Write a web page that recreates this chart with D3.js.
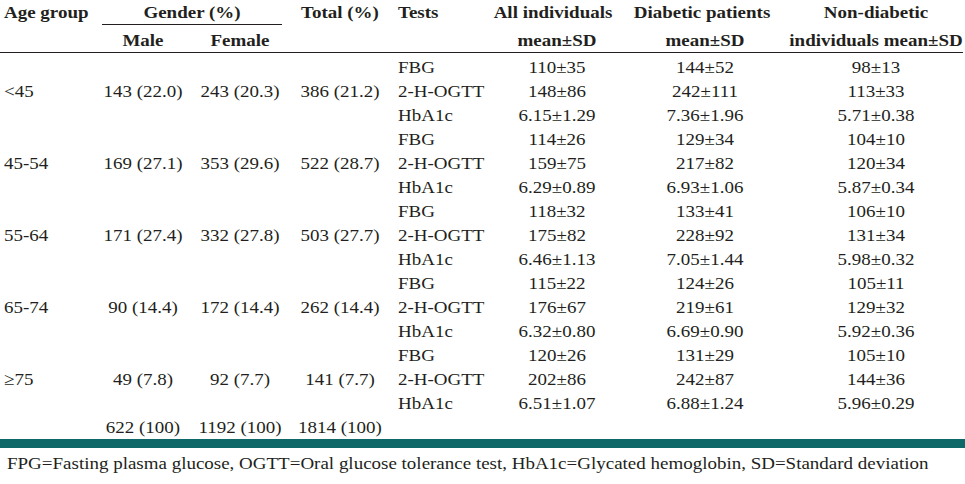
<!DOCTYPE html>
<html>
<head>
<meta charset="utf-8">
<script src="https://cdn.jsdelivr.net/npm/d3@7"></script>
<style>
  body { margin: 0; background: #fff; }
  text { font-family: 'Liberation Serif', 'Times New Roman', serif; fill: #231f20; }
</style>
</head>
<body>
<div id="tabla"></div>
<script>
// Tabla: grupos de edad, genero y pruebas de glucosa

// Datos
ageGroups = ['<45', '45-54', '55-64', '65-74', '\u226575']
male      = ['143 (22.0)', '169 (27.1)', '171 (27.4)', '90 (14.4)', '49 (7.8)']
female    = ['243 (20.3)', '353 (29.6)', '332 (27.8)', '172 (14.4)', '92 (7.7)']
total     = ['386 (21.2)', '522 (28.7)', '503 (27.7)', '262 (14.4)', '141 (7.7)']
totals    = ['622 (100)', '1192 (100)', '1814 (100)']
tests     = ['FBG', '2-H-OGTT', 'HbA1c']

allMean = [
  '110\u00b135', '148\u00b186', '6.15\u00b11.29',
  '114\u00b126', '159\u00b175', '6.29\u00b10.89',
  '118\u00b132', '175\u00b182', '6.46\u00b11.13',
  '115\u00b122', '176\u00b167', '6.32\u00b10.80',
  '120\u00b126', '202\u00b186', '6.51\u00b11.07'
]
diabMean = [
  '144\u00b152', '242\u00b1111', '7.36\u00b11.96',
  '129\u00b134', '217\u00b182', '6.93\u00b11.06',
  '133\u00b141', '228\u00b192', '7.05\u00b11.44',
  '124\u00b126', '219\u00b161', '6.69\u00b10.90',
  '131\u00b129', '242\u00b187', '6.88\u00b11.24'
]
nonDiabMean = [
  '98\u00b113', '113\u00b133', '5.71\u00b10.38',
  '104\u00b110', '120\u00b134', '5.87\u00b10.34',
  '106\u00b110', '131\u00b134', '5.98\u00b10.32',
  '105\u00b111', '129\u00b132', '5.92\u00b10.36',
  '105\u00b110', '144\u00b136', '5.96\u00b10.29'
]
footnote = 'FPG=Fasting plasma glucose, OGTT=Oral glucose tolerance test, HbA1c=Glycated hemoglobin, SD=Standard deviation'

ancho = 965
alto  = 484
fs = 17.5
sx = 1.085   // la imagen original esta un poco estirada a lo ancho

svg = d3.select('#tabla').append('svg')
        .attr('width', ancho)
        .attr('height', alto)

// Escaladores
y = d3.scaleLinear().domain([0, 15]).range([67, 427])
col = d3.scaleOrdinal()
        .domain(['age', 'male', 'female', 'total', 'tests', 'all', 'diab', 'nondiab'])
        .range([4, 143, 240, 340, 398, 557, 705, 876])

function txt(x, yy, s, opts) {
  opts = opts || {}
  return svg.append('text')
    .attr('transform', `translate(${x}, ${yy}) scale(${sx}, 1)`)
    .attr('dy', '0.35em')
    .attr('font-size', fs + 'px')
    .attr('font-weight', opts.bold ? 'bold' : 'normal')
    .attr('text-anchor', opts.anchor || 'middle')
    .text(s)
}

// Encabezado
txt(col('age'), 12, 'Age group', {bold: true, anchor: 'start'})
txt(192, 12, 'Gender (%)', {bold: true})
txt(col('male'), 40, 'Male', {bold: true})
txt(col('female'), 40, 'Female', {bold: true})
txt(col('total'), 12, 'Total (%)', {bold: true})
txt(col('tests'), 12, 'Tests', {bold: true, anchor: 'start'})
txt(col('all') - 4, 12, 'All individuals', {bold: true})
txt(col('all'), 40, 'mean\u00b1SD', {bold: true})
txt(col('diab') - 3, 12, 'Diabetic patients', {bold: true})
txt(col('diab'), 40, 'mean\u00b1SD', {bold: true})
txt(col('nondiab'), 12, 'Non-diabetic', {bold: true})
txt(col('nondiab'), 40, 'individuals mean\u00b1SD', {bold: true})

svg.append('line')
  .attr('x1', 102).attr('x2', 282)
  .attr('y1', 24.5).attr('y2', 24.5)
  .attr('stroke', '#231f20').attr('stroke-width', 1)

svg.append('line')
  .attr('x1', 0).attr('x2', 963)
  .attr('y1', 52.5).attr('y2', 52.5)
  .attr('stroke', '#231f20').attr('stroke-width', 1)

// Filas por grupo de edad
ageGroups.forEach((a, i) => {
  mid = y(i * 3 + 1)
  txt(col('age'), mid, a, {anchor: 'start'})
  txt(col('male'), mid, male[i])
  txt(col('female'), mid, female[i])
  txt(col('total'), mid, total[i])
})

// Filas de pruebas
allMean.forEach((v, j) => {
  yy = y(j)
  txt(col('tests'), yy, tests[j % 3], {anchor: 'start'})
  txt(col('all'), yy, v)
  txt(col('diab'), yy, diabMean[j])
  txt(col('nondiab'), yy, nonDiabMean[j])
})

// Totales
txt(col('male'), y(15), totals[0])
txt(col('female'), y(15), totals[1])
txt(col('total'), y(15), totals[2])

// Banda inferior y nota
svg.append('rect')
  .attr('x', 0).attr('y', 439)
  .attr('width', ancho).attr('height', 9)
  .attr('fill', '#0f6868')

txt(7, 463, footnote, {anchor: 'start'})
</script>
</body>
</html>
